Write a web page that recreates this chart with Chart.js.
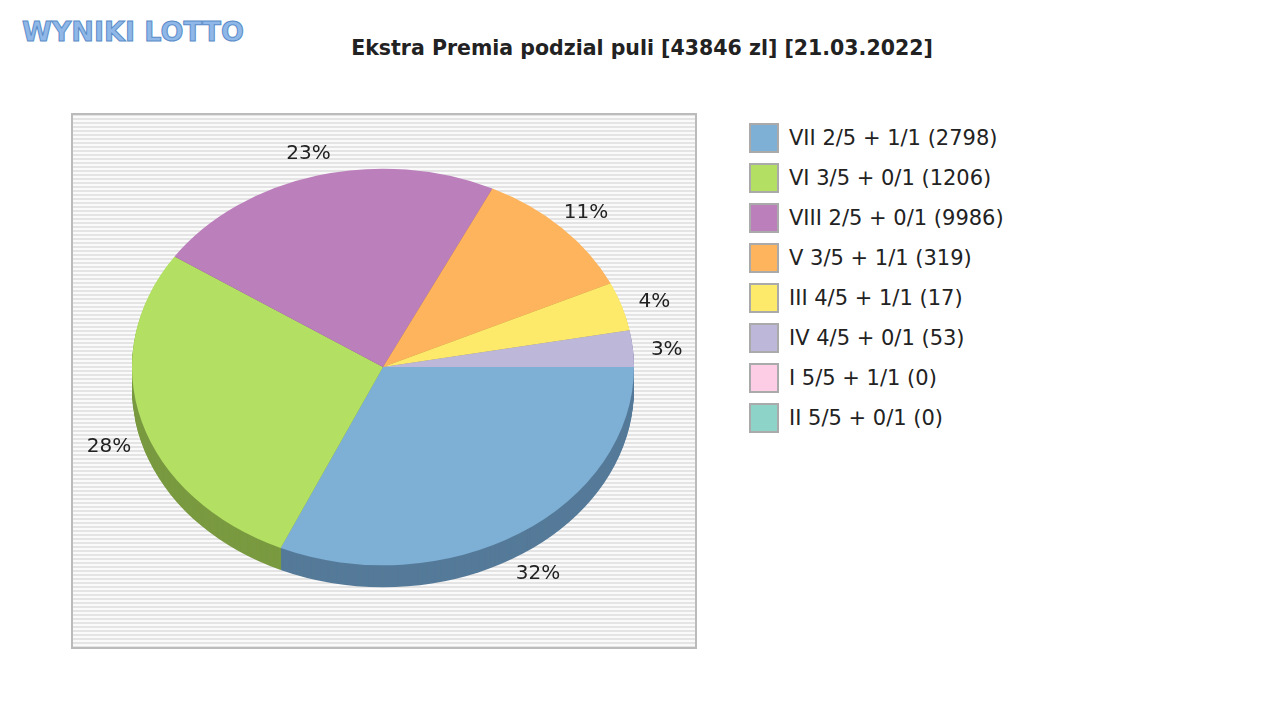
<!DOCTYPE html>
<html>
<head>
<meta charset="utf-8">
<script src="https://cdn.jsdelivr.net/npm/chart.js@4.4.0/dist/chart.umd.min.js"></script>
<style>
  body { margin: 0; width: 1280px; height: 720px; background: #fff; position: relative; font-family: "DejaVu Sans", sans-serif; overflow: hidden; }
  #logo { position: absolute; left: 22px; top: 16px; font: bold 27px "DejaVu Sans"; color: #8fb8e8; letter-spacing: 0px; -webkit-text-stroke: 1px #5a8cc8; }
  #title { position: absolute; left: 0; width: 1284px; top: 36px; text-align: center; font: bold 20.5px "DejaVu Sans"; color: #222; }
  #box { position: absolute; left: 71px; top: 113px; width: 626px; height: 536px; }
  #legend { position: absolute; left: 749px; top: 123px; }
  .item { height: 40px; display: flex; align-items: flex-start; font-size: 21px; color: #222; }
  .sw { width: 26px; height: 26px; border: 2px solid #aaa; margin-right: 10px; box-sizing: content-box; }
  .item span { line-height: 30px; }
</style>
</head>
<body>
<div id="logo">WYNIKI LOTTO</div>
<div id="title">Ekstra Premia podzial puli [43846 zl] [21.03.2022]</div>
<div id="box"><canvas id="myChart" width="626" height="536"></canvas></div>
<div id="legend"></div>
<script>
const labels = ["VII 2/5 + 1/1 (2798)", "VI 3/5 + 0/1 (1206)", "VIII 2/5 + 0/1 (9986)", "V 3/5 + 1/1 (319)", "III 4/5 + 1/1 (17)", "IV 4/5 + 0/1 (53)", "I 5/5 + 1/1 (0)", "II 5/5 + 0/1 (0)"];
const shares = [32, 28, 23, 11, 4, 3, 0, 0];
const colors = ["#7eafd4", "#b3e063", "#bb7fbb", "#fdb45c", "#fde96a", "#bdb8da", "#fdcce5", "#8dd3c7"];
const darkColors = ["#557a99", "#7a9a40", "#805080", "#b07a3a", "#b0a040", "#8580a0", "#b090a0", "#60948a"];

const SQUASH = 0.79;
const DEPTH = 22;

const legend = document.getElementById("legend");
labels.forEach((l, i) => {
  legend.innerHTML += `<div class="item"><div class="sw" style="background:${colors[i]}"></div><span>${l}</span></div>`;
});

const tiltPlugin = {
  id: "tilt",
  beforeDraw(chart) {
    const c = chart.ctx;
    c.save();
    c.fillStyle = "#fafafa";
    c.fillRect(0, 0, chart.width, chart.height);
    c.fillStyle = "#e4e4e4";
    for (let y = 1; y < chart.height; y += 4) c.fillRect(0, y, chart.width, 2);
    c.strokeStyle = "#bbb";
    c.lineWidth = 2;
    c.strokeRect(1, 1, chart.width - 2, chart.height - 2);
    c.restore();
  },
  beforeDatasetsDraw(chart) {
    const c = chart.ctx;
    const arcs = chart.getDatasetMeta(0).data;
    const cx = arcs[0].x, cy = arcs[0].y;
    c.save();
    c.translate(cx, cy);
    c.scale(1, SQUASH);
    for (let d = DEPTH; d > 0; d--) {
      arcs.forEach((a, i) => {
        if (a.endAngle - a.startAngle <= 0) return;
        c.beginPath();
        c.moveTo(0, d / SQUASH);
        c.arc(0, d / SQUASH, a.outerRadius, a.startAngle, a.endAngle);
        c.closePath();
        c.fillStyle = darkColors[i];
        c.fill();
      });
    }
    c.translate(-cx, -cy);
  },
  afterDatasetsDraw(chart) {
    const c = chart.ctx;
    c.restore();
    const arcs = chart.getDatasetMeta(0).data;
    c.save();
    c.font = "20px 'DejaVu Sans'";
    c.fillStyle = "#222";
    c.textAlign = "center";
    c.textBaseline = "middle";
    arcs.forEach((a, i) => {
      if (!shares[i]) return;
      const m = (a.startAngle + a.endAngle) / 2;
      const r = a.outerRadius + 34;
      const s = Math.sin(m);
      const x = a.x + r * Math.cos(m);
      const y = a.y + r * SQUASH * s + (s > 0.2 ? DEPTH - 4 : 4);
      c.fillText(shares[i] + "%", x, y);
    });
    c.restore();
  }
};

new Chart(document.getElementById("myChart"), {
  type: "pie",
  data: {
    labels: labels,
    datasets: [{ data: shares, backgroundColor: colors, borderWidth: 0 }]
  },
  options: {
    responsive: false,
    animation: false,
    rotation: 90,
    layout: { padding: { top: 3, bottom: 31, left: 61, right: 63 } },
    plugins: { legend: { display: false }, tooltip: { enabled: false } }
  },
  plugins: [tiltPlugin]
});
</script>
</body>
</html>
